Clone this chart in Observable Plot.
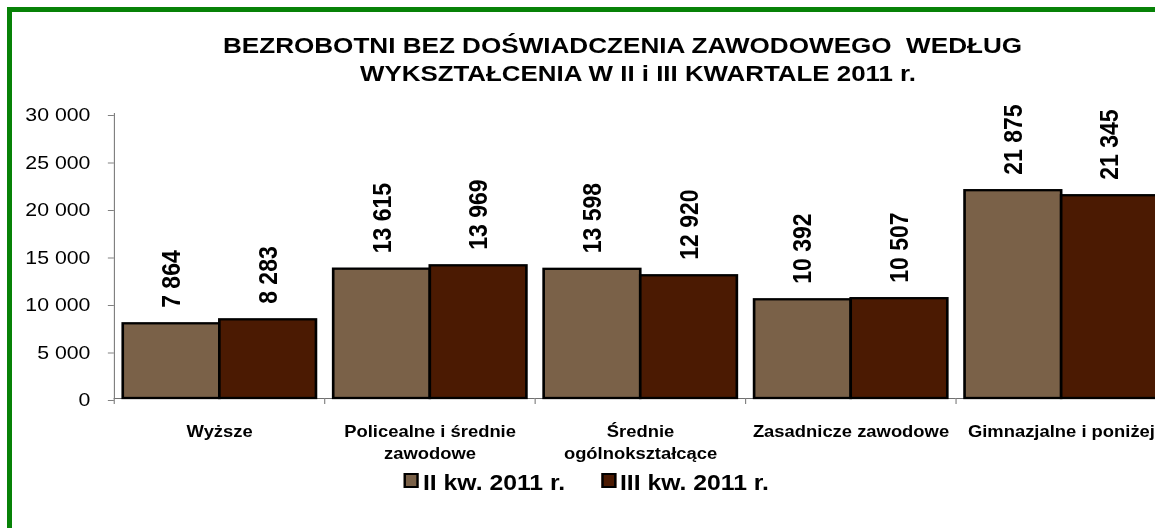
<!DOCTYPE html>
<html>
<head>
<meta charset="utf-8">
<script src="https://cdn.jsdelivr.net/npm/d3@7"></script>
<script src="https://cdn.jsdelivr.net/npm/@observablehq/plot@0.6"></script>
<style>
  html, body { margin: 0; padding: 0; background: #fff; }
  body { width: 1155px; height: 528px; overflow: hidden; position: relative; font-family: "Liberation Sans", Arial, sans-serif; }
  #frame { position: absolute; left: 7px; top: 7px; width: 1400px; height: 800px; border: 5px solid #078207; box-sizing: border-box; }
  #wrap { position: absolute; left: 0; top: 0; width: 1100px; height: 528px; transform-origin: 0 0; }
  #wrap svg { position: absolute; left: 0; top: 0; }
  .t { position: absolute; white-space: pre; font-weight: bold; color: #000; }
  .sw { position: absolute; border: 2px solid #000; box-sizing: border-box; }
</style>
</head>
<body>
<div id="frame"></div>
<div id="wrap"></div>
<script>
// ---- data ----
const titleLines = ["BEZROBOTNI BEZ DOŚWIADCZENIA ZAWODOWEGO  WEDŁUG", "WYKSZTAŁCENIA W II i III KWARTALE 2011 r."];
const categories = ["Wyższe", "Policealne i średnie zawodowe", "Średnie ogólnokształcące", "Zasadnicze zawodowe", "Gimnazjalne i poniżej"];
const categoryTickLabels = ["Wyższe", "Policealne i średnie\nzawodowe", "Średnie\nogólnokształcące", "Zasadnicze zawodowe", "Gimnazjalne i poniżej"];
const series = ["II kw. 2011 r.", "III kw. 2011 r."];
const valuesQ2 = [7864, 13615, 13598, 10392, 21875];
const valuesQ3 = [8283, 13969, 12920, 10507, 21345];
const seriesColors = ["#7a6148", "#4b1a02"];
const yTicks = [0, 5000, 10000, 15000, 20000, 25000, 30000];

// ---- layout ----
const S = 1.15; // horizontal stretch of the original picture
const wrap = document.getElementById("wrap");
wrap.style.transform = `scaleX(${S})`;
const FONT = '"Liberation Sans", Arial, sans-serif';

const data = categories.flatMap((c, i) => [
  {cat: c, series: series[0], value: valuesQ2[i]},
  {cat: c, series: series[1], value: valuesQ3[i]}
]);
const fmt = d => d3.format(",")(d).replace(/,/g, " ");

const W = 1040, H = 470;
const mL = 113 / S, plotRight = 1167 / S, mR = W - plotRight;
const mT = 113, mB = H - 398;
const band = (plotRight - mL) / categories.length;

const chart = Plot.plot({
  width: W, height: H,
  marginLeft: mL, marginRight: mR, marginTop: mT, marginBottom: mB,
  style: {fontFamily: FONT, maxWidth: "none", background: "transparent", overflow: "visible"},
  fx: {domain: categories, padding: 0, label: null},
  x: {domain: series, paddingInner: 0, paddingOuter: 0.088, axis: null},
  y: {domain: [0, 30000], axis: null},
  color: {domain: series, range: seriesColors},
  marks: [
    Plot.axisY({ticks: yTicks, tickFormat: fmt, tickSize: 6 / S, tickPadding: 15.7, fontSize: 18.5,
      stroke: "#808080", fill: "#000", dy: 2, label: null}),
    Plot.frame({anchor: "left", facet: "super", stroke: "#808080", strokeWidth: 1}),
    Plot.ruleY([0], {stroke: "#707070", strokeWidth: 1.2}),
    Plot.axisFx({anchor: "bottom", tickSize: 6, tickFormat: () => "", dx: -band / 2, stroke: "#808080", label: null}),
    Plot.axisFx({anchor: "bottom", tickSize: 0, tickPadding: 22.5, fontSize: 16, fontWeight: "bold",
      lineHeight: 1.39, fill: "#000", label: null,
      tickFormat: d => categoryTickLabels[categories.indexOf(d)]}),
    Plot.barY(data, {fx: "cat", x: "series", y: "value", fill: "series", stroke: "#000", strokeWidth: 2.3, inset: 0}),
    Plot.text(data, {fx: "cat", x: "series", y: "value", text: d => fmt(d.value), rotate: -90,
      textAnchor: "start", lineAnchor: "middle", dy: -16, fontSize: 23, fontWeight: "bold", fill: "#000"})
  ]
});
wrap.appendChild(chart);

// ---- title (HTML) ----
function addText(str, {left, center, baseline, size}) {
  const el = document.createElement("div");
  el.className = "t";
  el.textContent = str;
  el.style.fontSize = size + "px";
  el.style.lineHeight = (size * 1.117) + "px";
  el.style.top = (baseline - 0.905 * size) + "px";
  if (center != null) {
    el.style.left = (center - 600) + "px";
    el.style.width = "1200px";
    el.style.textAlign = "center";
  } else {
    el.style.left = left + "px";
  }
  wrap.appendChild(el);
  return el;
}
addText(titleLines[0], {center: 622.5 / S, baseline: 54, size: 22.7});
addText(titleLines[1], {center: 638 / S, baseline: 81.7, size: 22.5});

// ---- legend (HTML) ----
const legendSwatchX = [404, 601];
const legendTextX = [423, 620];
series.forEach((s, i) => {
  const sw = document.createElement("div");
  sw.className = "sw";
  sw.style.left = (legendSwatchX[i] / S) + "px";
  sw.style.top = "473px";
  sw.style.width = (15 / S) + "px";
  sw.style.height = "15px";
  sw.style.background = seriesColors[i];
  wrap.appendChild(sw);
  addText(s, {left: legendTextX[i] / S, baseline: 490, size: 21.5});
});
</script>
</body>
</html>
